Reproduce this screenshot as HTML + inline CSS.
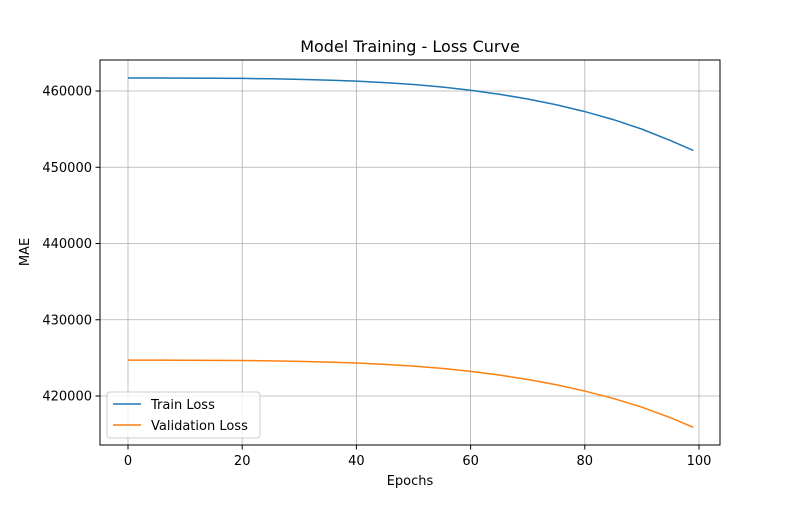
<!DOCTYPE html>
<html><head><meta charset="utf-8"><style>
body{margin:0;background:#fff;}
svg text{font-family:"DejaVu Sans","Liberation Sans",sans-serif;fill:#000;}
</style></head><body>
<svg id="chart" width="800" height="500" xmlns="http://www.w3.org/2000/svg">
<rect width="800" height="500" fill="#fff"/>
<text x="410" y="52" font-size="16" text-anchor="middle">Model Training - Loss Curve</text>
<g id="grid"></g>
<g id="ticks"></g>
<g id="series"></g>
<rect x="100" y="60" width="620" height="385" fill="none" stroke="#000" stroke-width="1"/>
<text x="410" y="485" font-size="13" text-anchor="middle">Epochs</text>
<text transform="translate(29,252) rotate(-90)" font-size="13" text-anchor="middle">MAE</text>
<g>
<rect x="107" y="392" width="153" height="46" rx="3" fill="#fff" fill-opacity="0.8" stroke="#ccc"/>
<g><line x1="113" y1="404" x2="141" y2="404" stroke="#1f77b4" stroke-width="1.5"/><text x="151" y="409" font-size="13">Train Loss</text></g>
<g><line x1="113" y1="425" x2="141" y2="425" stroke="#ff7f0e" stroke-width="1.5"/><text x="151" y="430" font-size="13">Validation Loss</text></g>
</g>
</svg>
<script>
const epochs=[0,5,10,15,20,25,30,35,40,45,50,55,60,65,70,75,80,85,90,95,99];
const trainLoss=[461700,461700,461690,461680,461650,461600,461530,461430,461300,461100,460850,460520,460100,459580,458950,458200,457300,456250,455000,453500,452200];
const valLoss=[424700,424700,424690,424680,424650,424610,424540,424450,424330,424150,423920,423620,423230,422750,422170,421480,420650,419680,418530,417150,415900];
const xTicks=[0,20,40,60,80,100];
const yTicks=[420000,430000,440000,450000,460000];
const NS="http://www.w3.org/2000/svg";
const xS=v=>128+(v-0)*(699-128)/100;
const yS=v=>396-(v-420000)*(396-91)/40000;
const grid=document.getElementById('grid'),ticks=document.getElementById('ticks'),series=document.getElementById('series');
function mk(tag,attrs,parent){const e=document.createElementNS(NS,tag);for(const k in attrs)e.setAttribute(k,attrs[k]);parent.appendChild(e);return e;}
xTicks.forEach(t=>{const x=xS(t);
 const g=mk('line',{x1:x,x2:x,y1:60,y2:445,stroke:'#b0b0b0','stroke-width':0.8},grid);
 
 
 mk('line',{x1:x,x2:x,y1:445,y2:449.5,stroke:'#000'},ticks);
 const tx=mk('text',{x:x,y:465,'font-size':13,'text-anchor':'middle'},ticks);tx.textContent=t;
 
 
});
yTicks.forEach(t=>{const y=yS(t);
 const g=mk('line',{x1:100,x2:720,y1:y,y2:y,stroke:'#b0b0b0','stroke-width':0.8},grid);
 
 
 mk('line',{x1:95.5,x2:100,y1:y,y2:y,stroke:'#000'},ticks);
 const tx=mk('text',{x:92,y:y+4.5,'font-size':13,'text-anchor':'end'},ticks);tx.textContent=t;
 
 
});
function line(vals,color,name){
 const p=mk('polyline',{points:epochs.map((e,i)=>xS(e)+','+yS(vals[i])).join(' '),fill:'none',stroke:color,'stroke-width':1.5},series);
 
 
}
line(trainLoss,'#1f77b4','train-loss-line');
line(valLoss,'#ff7f0e','validation-loss-line');
</script>
</body></html>
